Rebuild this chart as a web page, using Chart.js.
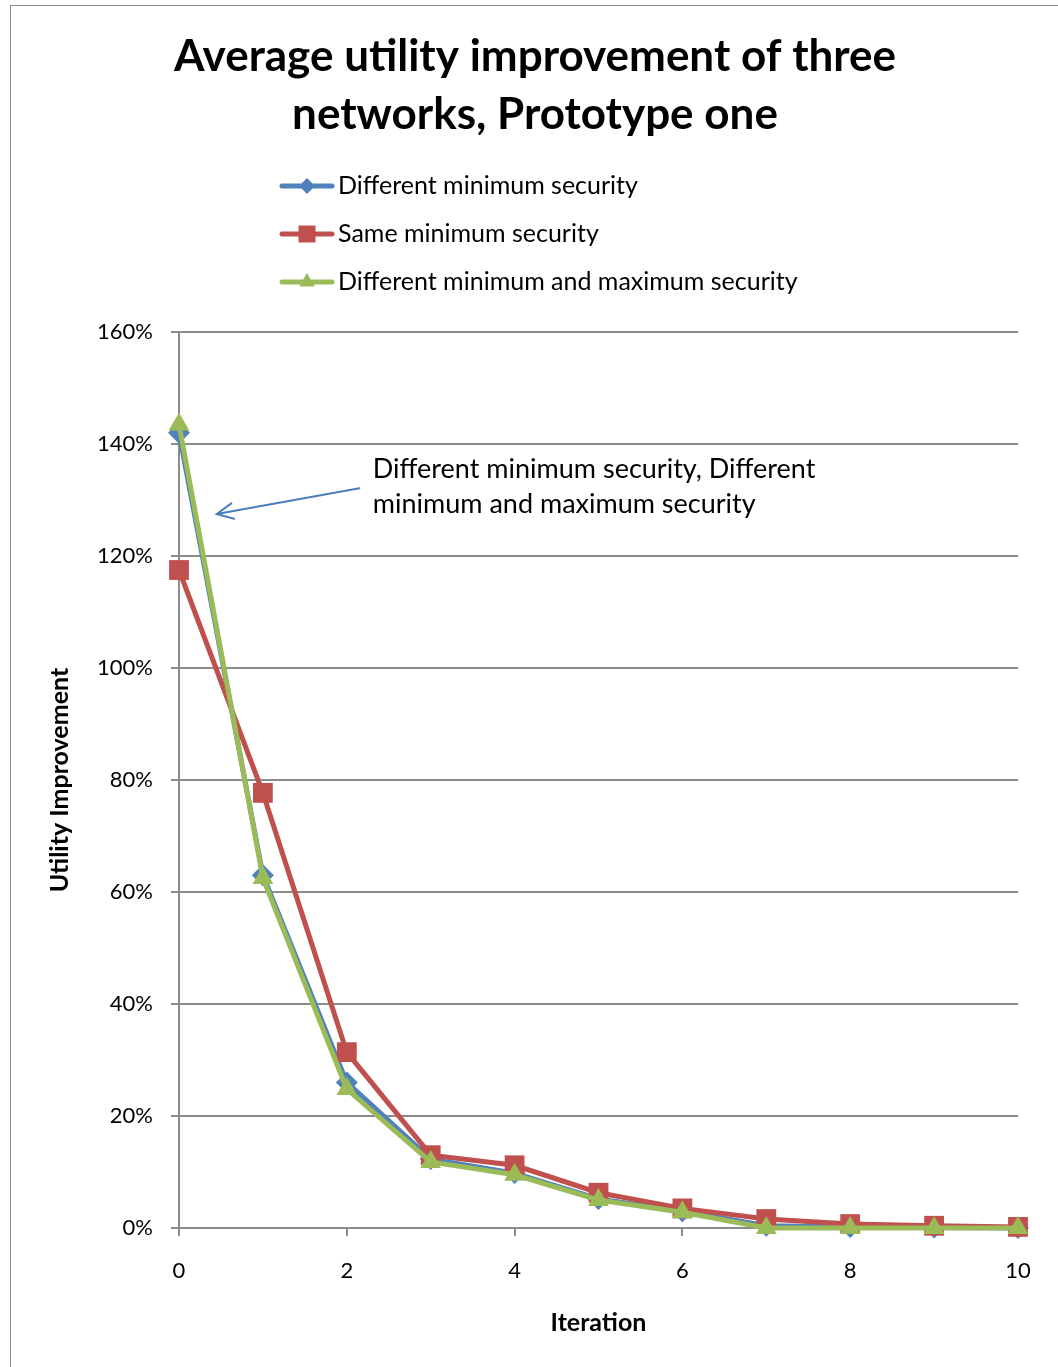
<!DOCTYPE html>
<html>
<head>
<meta charset="utf-8">
<script src="https://cdn.jsdelivr.net/npm/chart.js@4/dist/chart.umd.min.js"></script>
<style>
  html, body { margin: 0; padding: 0; background: #fff; }
  #wrap { position: relative; width: 1058px; height: 1367px; overflow: hidden; }
  #frame { position: absolute; left: 10px; top: 5px; width: 1100px; height: 1400px;
           border: 1.5px solid #8c8c8c; box-sizing: border-box; }
  #c { position: absolute; left: 0; top: 0; }
</style>
</head>
<body>
<div id="wrap">
  <div id="frame"></div>
  <canvas id="c" width="1058" height="1367"></canvas>
</div>
<script>
// Iteration number on the x axis
const iterations = [0, 1, 2, 3, 4, 5, 6, 7, 8, 9, 10];

// Average utility improvement, in percent
const diffMinSecurity    = [142.0, 63.0, 26.0, 12.3, 9.8, 5.2, 3.0, 0.4, 0.2, 0.1, 0.0];
const sameMinSecurity    = [117.5, 77.7, 31.4, 13.0, 11.2, 6.3, 3.5, 1.6, 0.7, 0.4, 0.2];
const diffMinMaxSecurity = [143.5, 62.5, 24.8, 11.8, 9.5, 5.0, 2.8, 0.0, 0.0, 0.0, 0.0];

const seriesNames = [
  'Different minimum security',
  'Same minimum security',
  'Different minimum and maximum security'
];
const seriesColors = ['#4F81BD', '#C0504D', '#9BBB59'];
const seriesMarkers = ['rectRot', 'rect', 'triangle'];

const titleLines = ['Average utility improvement of three', 'networks, Prototype one'];
const xTitle = 'Iteration';
const yTitle = 'Utility Improvement';
const noteLines = ['Different minimum security, Different', 'minimum and maximum security'];

// Callout arrow and its text, in data units (iteration, percent)
const noteArrow = { fromX: 2.15, fromY: 132.1, toX: 0.45, toY: 127.5 };
const noteText = { x: 2.31, y: 135.5 };

const FONT = 'Lato, "Open Sans", sans-serif';
const GRID = '#8c8c8c';

function pts(values) {
  return iterations.map((it, i) => ({ x: it, y: values[i] }));
}

const markerRadius = [11, 14, 12];
const legendMarkerRadius = [8, 12, 9];

const decorations = {
  id: 'decorations',
  afterDraw(chart) {
    const { ctx, scales: { x, y } } = chart;
    ctx.save();

    // Chart title
    ctx.fillStyle = '#000';
    ctx.textAlign = 'center';
    ctx.textBaseline = 'middle';
    ctx.font = `bold 44px ${FONT}`;
    titleLines.forEach((t, i) => ctx.fillText(t, 535, 57 + i * 58));

    // Legend, one entry per row
    ctx.font = `25px ${FONT}`;
    ctx.textAlign = 'left';
    seriesNames.forEach((name, i) => {
      const yy = 186 + i * 48;
      ctx.strokeStyle = seriesColors[i];
      ctx.lineWidth = 5;
      ctx.lineCap = 'round';
      ctx.beginPath();
      ctx.moveTo(282, yy);
      ctx.lineTo(332, yy);
      ctx.stroke();
      ctx.fillStyle = seriesColors[i];
      Chart.helpers.drawPoint(ctx, {
        pointStyle: seriesMarkers[i], rotation: 0,
        radius: legendMarkerRadius[i], borderWidth: 0
      }, 307, yy);
      ctx.fillStyle = '#000';
      ctx.fillText(name, 338, yy);
    });

    // Callout arrow
    const x0 = x.getPixelForValue(noteArrow.fromX), y0 = y.getPixelForValue(noteArrow.fromY);
    const x1 = x.getPixelForValue(noteArrow.toX), y1 = y.getPixelForValue(noteArrow.toY);
    ctx.strokeStyle = '#4A7EBB';
    ctx.lineWidth = 2;
    ctx.lineCap = 'round';
    ctx.beginPath();
    ctx.moveTo(x0, y0);
    ctx.lineTo(x1, y1);
    const ang = Math.atan2(y0 - y1, x0 - x1);
    const head = 18, spread = 0.45;
    ctx.moveTo(x1 + head * Math.cos(ang + spread), y1 + head * Math.sin(ang + spread));
    ctx.lineTo(x1, y1);
    ctx.lineTo(x1 + head * Math.cos(ang - spread), y1 + head * Math.sin(ang - spread));
    ctx.stroke();

    // Callout text
    ctx.fillStyle = '#000';
    ctx.font = `27px ${FONT}`;
    ctx.textAlign = 'left';
    ctx.textBaseline = 'middle';
    const tx = x.getPixelForValue(noteText.x), ty = y.getPixelForValue(noteText.y);
    noteLines.forEach((t, i) => ctx.fillText(t, tx, ty + i * 35));

    ctx.restore();
  }
};

new Chart(document.getElementById('c'), {
  type: 'line',
  data: {
    datasets: [diffMinSecurity, sameMinSecurity, diffMinMaxSecurity].map((vals, i) => ({
      label: seriesNames[i],
      data: pts(vals),
      borderColor: seriesColors[i],
      backgroundColor: seriesColors[i],
      borderWidth: 5,
      pointStyle: seriesMarkers[i],
      pointRadius: markerRadius[i],
      pointBorderWidth: 0,
      pointBackgroundColor: seriesColors[i],
      tension: 0,
      fill: false,
      clip: false,
      order: 3 - i
    }))
  },
  options: {
    responsive: false,
    animation: false,
    layout: { padding: { top: 332, right: 40, left: 0, bottom: 0 } },
    plugins: { legend: { display: false }, tooltip: { enabled: false }, title: { display: false } },
    scales: {
      x: {
        type: 'linear',
        min: 0, max: 10,
        afterFit(s) { s.height = 139; },
        ticks: { stepSize: 2, padding: 22, color: '#000', font: { family: FONT, size: 22 } },
        grid: { drawOnChartArea: false, drawTicks: true, tickLength: 8, color: GRID, lineWidth: 2 },
        border: { display: true, color: GRID, width: 2 },
        title: { display: true, text: xTitle, color: '#000',
                 font: { family: FONT, size: 25, weight: 'bold' }, padding: { top: 0, bottom: 29 } }
      },
      y: {
        min: 0, max: 160,
        afterFit(s) { s.width = 179; },
        ticks: { stepSize: 20, padding: 18, color: '#000', font: { family: FONT, size: 22 },
                 callback: v => v + '%' },
        grid: { color: GRID, lineWidth: 2, tickLength: 8 },
        border: { display: true, color: GRID, width: 2 },
        title: { display: true, text: yTitle, color: '#000',
                 font: { family: FONT, size: 25, weight: 'bold' }, padding: { top: 45, bottom: 0 } }
      }
    }
  },
  plugins: [decorations]
});
</script>
</body>
</html>
